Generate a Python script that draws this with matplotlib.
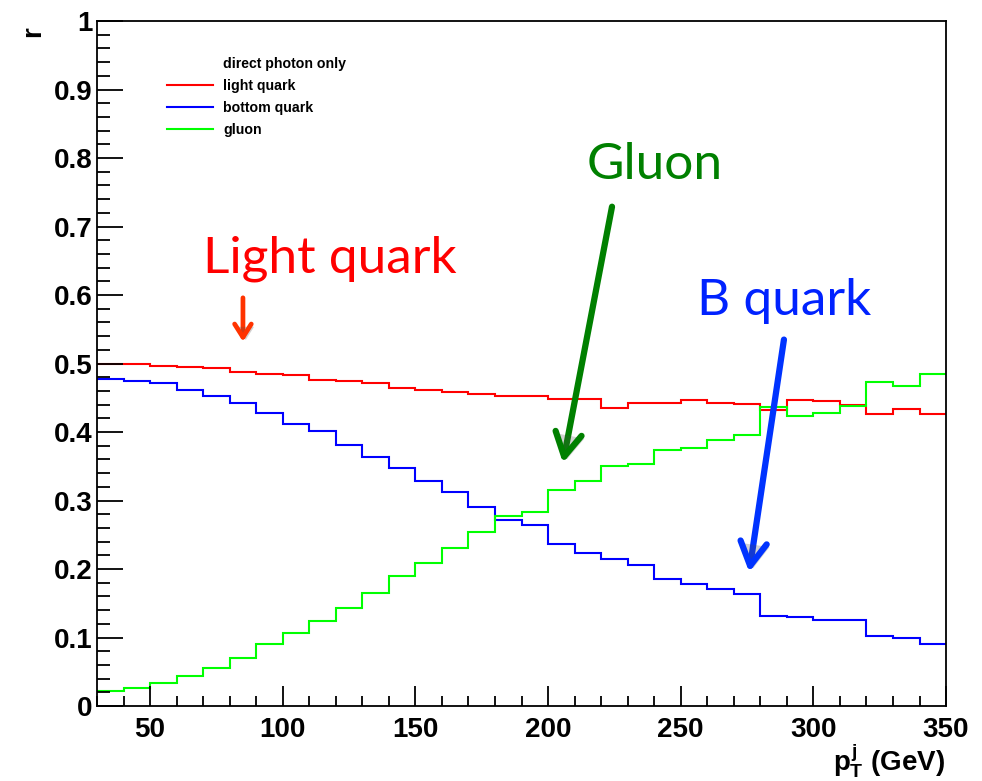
import matplotlib
matplotlib.use("Agg")
import matplotlib.pyplot as plt
import matplotlib.patheffects as pe
from matplotlib.lines import Line2D
from matplotlib.ticker import MultipleLocator
import numpy as np

# Fraction r of direct-photon events per jet flavour, in 10 GeV bins of jet pT
bin_edges = np.arange(30, 351, 10)
light_quark = [0.500, 0.499, 0.497, 0.495, 0.493, 0.487, 0.485, 0.484,
               0.476, 0.475, 0.472, 0.465, 0.462, 0.458, 0.456, 0.452,
               0.452, 0.448, 0.448, 0.435, 0.443, 0.443, 0.447, 0.443,
               0.441, 0.432, 0.447, 0.446, 0.439, 0.427, 0.434, 0.427]
bottom_quark = [0.478, 0.474, 0.472, 0.462, 0.452, 0.443, 0.428, 0.412,
                0.401, 0.381, 0.363, 0.347, 0.329, 0.312, 0.291, 0.271,
                0.265, 0.236, 0.224, 0.215, 0.206, 0.186, 0.178, 0.171,
                0.163, 0.131, 0.130, 0.126, 0.125, 0.102, 0.099, 0.090]
gluon = [0.022, 0.027, 0.033, 0.044, 0.056, 0.070, 0.090, 0.106,
         0.124, 0.143, 0.165, 0.190, 0.209, 0.231, 0.254, 0.278,
         0.284, 0.315, 0.329, 0.351, 0.353, 0.374, 0.376, 0.389,
         0.396, 0.437, 0.423, 0.428, 0.438, 0.473, 0.467, 0.485]

series_labels = ["light quark", "bottom quark", "gluon"]
series_colors = ["#ff0000", "#0000ff", "#00ff00"]
legend_header = "direct photon only"

x_ticks = [50, 100, 150, 200, 250, 300, 350]
y_ticks = [0, 0.1, 0.2, 0.3, 0.4, 0.5, 0.6, 0.7, 0.8, 0.9, 1]
y_tick_labels = ["0", "0.1", "0.2", "0.3", "0.4", "0.5", "0.6", "0.7", "0.8", "0.9", "1"]

plt.rcParams["font.family"] = ["Liberation Sans", "DejaVu Sans"]
plt.rcParams["mathtext.fontset"] = "custom"
plt.rcParams["mathtext.rm"] = "Liberation Sans:bold"
plt.rcParams["mathtext.it"] = "Liberation Sans:bold"
plt.rcParams["mathtext.bf"] = "Liberation Sans:bold"

fig = plt.figure(figsize=(9.82, 7.81), dpi=100)
ax = fig.add_axes([0.0988, 0.096, 0.8646, 0.877])

for vals, col in zip([light_quark, bottom_quark, gluon], series_colors):
    ax.stairs(vals, bin_edges, color=col, linewidth=1.5, baseline=None)

ax.set_xlim(30, 350)
ax.set_ylim(0, 1)

# ROOT-like inward ticks on the left and bottom axes
ax.set_xticks(x_ticks)
ax.set_xticklabels([str(t) for t in x_ticks])
ax.set_yticks(y_ticks)
ax.set_yticklabels(y_tick_labels)
ax.xaxis.set_minor_locator(MultipleLocator(10))
ax.yaxis.set_minor_locator(MultipleLocator(0.02))
ax.tick_params(axis="y", which="major", direction="in", length=18.5, width=1.3,
               labelsize=20, pad=3)
ax.tick_params(axis="y", which="minor", direction="in", length=9.3, width=1.3)
ax.tick_params(axis="x", which="major", direction="in", length=14.4, width=1.3,
               labelsize=20, pad=8)
ax.tick_params(axis="x", which="minor", direction="in", length=7.2, width=1.3)
for lab in ax.get_xticklabels() + ax.get_yticklabels():
    lab.set_fontweight("bold")
for sp in ax.spines.values():
    sp.set_linewidth(1.3)

# Axis titles
fig.text(33 / 982, 1 - 32 / 781, "r", rotation=90, fontsize=20, fontweight="bold",
         ha="center", va="center")
fig.text(945 / 982, 1 - 770 / 781, r"$p_{T}^{j}$ (GeV)", fontsize=20, fontweight="bold",
         ha="right", va="baseline")

# Legend with a text-only header row
handles = [Line2D([], [], color="none")]
handles += [Line2D([], [], color=c, linewidth=1.5) for c in series_colors]
leg = ax.legend(handles, [legend_header] + series_labels, loc="upper left",
                bbox_to_anchor=(0.0824, 0.948), frameon=False, borderpad=0,
                borderaxespad=0, handlelength=3.25, handletextpad=0.72,
                labelspacing=0.56,
                prop={"family": "Liberation Sans", "weight": "bold", "size": 10.2})

# Call-out labels with arrows
shadow = [pe.SimplePatchShadow(offset=(2, -2), alpha=0.25), pe.Normal()]
ann_font = {"family": ["Lato", "DejaVu Sans"], "size": 37}

ax.text(117.8, 0.633, "Light quark", color="#ff0000", ha="center", va="baseline", **ann_font)
ax.text(240.3, 0.769, "Gluon", color="#008000", ha="center", va="baseline", **ann_font)
ax.text(288.9, 0.571, "B quark", color="#0022ff", ha="center", va="baseline", **ann_font)

ax.annotate("", xy=(85.0, 0.532), xytext=(85.0, 0.596),
            arrowprops=dict(arrowstyle="->,head_length=0.95,head_width=0.6",
                            lw=3.4, color="#ff3300", capstyle="round",
                            joinstyle="round", shrinkA=0, shrinkB=0,
                            path_effects=shadow))
ax.annotate("", xy=(205.6, 0.355), xytext=(224.1, 0.729),
            arrowprops=dict(arrowstyle="->,head_length=1.7,head_width=0.95",
                            lw=4.5, color="#008000", capstyle="round",
                            joinstyle="round", shrinkA=0, shrinkB=0,
                            path_effects=shadow))
ax.annotate("", xy=(275.8, 0.1955), xytext=(288.9, 0.535),
            arrowprops=dict(arrowstyle="->,head_length=1.7,head_width=0.95",
                            lw=4.5, color="#0033ff", capstyle="round",
                            joinstyle="round", shrinkA=0, shrinkB=0,
                            path_effects=shadow))

fig.savefig("out.png", dpi=100)
